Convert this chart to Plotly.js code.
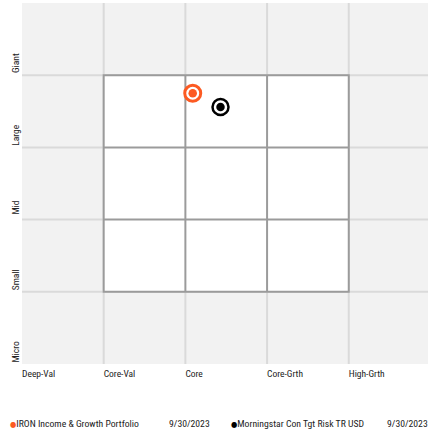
<!DOCTYPE html>
<html>
<head>
<meta charset="utf-8">
<script src="https://cdn.plot.ly/plotly-3.0.1.min.js"></script>
<style>html,body{margin:0;padding:0;background:#fff;}#chart{width:428px;height:432px;}</style>
</head>
<body>
<div id="chart"></div>
<script>
// Style box axes
const styleLabels = ['Deep-Val', 'Core-Val', 'Core', 'Core-Grth', 'High-Grth'];
const styleTicks = [0, 1, 2, 3, 4];
const sizeLabels = ['Micro', 'Small', 'Mid', 'Large', 'Giant'];
const sizeTicks = [0, 1, 2, 3, 4];

// Holdings positions (style score, size score)
const seriesNames = ['IRON Income & Growth Portfolio', 'Morningstar Con Tgt Risk TR USD'];
const seriesDates = ['9/30/2023', '9/30/2023'];
const seriesX = [2.09, 2.43];
const seriesY = [3.75, 3.56];
const seriesColors = ['#fc5a22', '#000000'];

const FONT = '"Liberation Sans Narrow", "Roboto Condensed", "DejaVu Sans Condensed", "Arial Narrow", sans-serif';

const traces = [];
for (let i = 0; i < seriesNames.length; i++) {
  traces.push({
    type: 'scatter', mode: 'markers', x: [seriesX[i]], y: [seriesY[i]],
    name: seriesNames[i], showlegend: false, hoverinfo: 'skip',
    marker: {size: 16, color: '#ffffff', line: {color: seriesColors[i], width: i === 0 ? 3 : 2.5}}
  });
  traces.push({
    type: 'scatter', mode: 'markers', x: [seriesX[i]], y: [seriesY[i]],
    name: seriesNames[i], showlegend: false, hoverinfo: 'skip',
    marker: {size: 8.5, color: seriesColors[i], line: {width: 0}}
  });
}

const shapes = [];
const light = {color: '#dadada', width: 2};
const dark = {color: '#9b9b9b', width: 2};
for (let v = 1; v <= 4; v++) {
  shapes.push({type: 'line', layer: 'below', xref: 'x', yref: 'paper', x0: v, x1: v, y0: 0, y1: 1, line: light});
  shapes.push({type: 'line', layer: 'below', xref: 'paper', yref: 'y', x0: 0, x1: 1, y0: v, y1: v, line: light});
}
shapes.push({type: 'rect', layer: 'below', xref: 'x', yref: 'y', x0: 1, x1: 4, y0: 1, y1: 4, fillcolor: '#ffffff', line: dark});
for (let v = 2; v <= 3; v++) {
  shapes.push({type: 'line', layer: 'below', xref: 'x', yref: 'y', x0: v, x1: v, y0: 1, y1: 4, line: dark});
  shapes.push({type: 'line', layer: 'below', xref: 'x', yref: 'y', x0: 1, x1: 4, y0: v, y1: v, line: dark});
}

const annXs = [-0.0345, 0.357, 0.51, 0.893];
const annotations = [];
for (let i = 0; i < seriesNames.length; i++) {
  annotations.push({
    xref: 'paper', yref: 'paper', x: annXs[i * 2], y: -0.165, xanchor: 'left', yanchor: 'middle', showarrow: false,
    text: '<span style="color:' + seriesColors[i] + ';font-size:8px">●</span>' + seriesNames[i],
    font: {family: FONT, size: 9.7, color: '#222'}
  });
  annotations.push({
    xref: 'paper', yref: 'paper', x: annXs[i * 2 + 1], y: -0.165, xanchor: 'left', yanchor: 'middle', showarrow: false,
    text: seriesDates[i], font: {family: FONT, size: 9.7, color: '#222'}
  });
}

const layout = {
  width: 428, height: 432,
  margin: {l: 22, r: 0, t: 3, b: 68},
  paper_bgcolor: '#ffffff', plot_bgcolor: '#f2f2f2',
  showlegend: false,
  font: {family: FONT, size: 9.5, color: '#222'},
  xaxis: {range: [0, 4.97], tickvals: styleTicks, ticktext: styleLabels, showgrid: false, zeroline: false,
          showline: false, ticks: '', ticklabelposition: 'outside right', ticklabelstandoff: 2, fixedrange: true,
          tickfont: {family: FONT, size: 9.5, color: '#222'}},
  yaxis: {range: [0, 5], tickvals: sizeTicks, ticktext: sizeLabels, showgrid: false, zeroline: false,
          showline: false, ticks: '', tickangle: -90, ticklabelposition: 'outside top', ticklabelshift: -4, fixedrange: true,
          tickfont: {family: FONT, size: 9.5, color: '#222'}},
  shapes: shapes,
  annotations: annotations
};

Plotly.newPlot('chart', traces, layout, {displayModeBar: false, staticPlot: true});
</script>
</body>
</html>
